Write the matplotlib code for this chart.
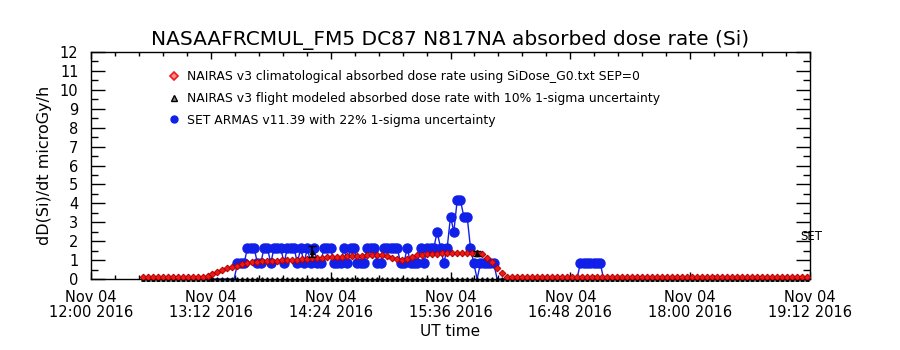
import numpy as np
import matplotlib
matplotlib.use("Agg")
import matplotlib.pyplot as plt
from matplotlib.ticker import MultipleLocator
from matplotlib.lines import Line2D

plt.rcParams['font.family'] = ['DejaVu Sans']

title = "NASAAFRCMUL_FM5 DC87 N817NA absorbed dose rate (Si)"
ylabel = "dD(Si)/dt microGy/h"
xlabel = "UT time"

# x in minutes after Nov 04 2016 12:00 UT
xtick_minutes = [0, 72, 144, 216, 288, 360, 432]
xtick_labels = ["Nov 04\n12:00 2016", "Nov 04\n13:12 2016", "Nov 04\n14:24 2016",
                "Nov 04\n15:36 2016", "Nov 04\n16:48 2016", "Nov 04\n18:00 2016",
                "Nov 04\n19:12 2016"]
ytick_values = list(range(0, 13))

# NAIRAS v3 climatological (red diamonds)
clim_minutes = list(range(31, 431, 3))
clim_values = [
    0.08, 0.08, 0.08, 0.08, 0.08, 0.08, 0.08, 0.08, 0.08, 0.08, 0.09, 0.10,
    0.12, 0.18, 0.27, 0.37, 0.47, 0.56, 0.64, 0.71, 0.78, 0.84,
    0.89, 0.92, 0.94, 0.95, 0.96, 0.97, 0.98, 1.00, 1.02, 1.03,
    1.05, 1.07, 1.09, 1.11, 1.13, 1.15, 1.16, 1.17, 1.18, 1.20,
    1.22, 1.23, 1.24, 1.25, 1.25, 1.26, 1.25, 1.19, 1.11, 1.04,
    1.00, 1.06, 1.16, 1.25, 1.28, 1.30, 1.32, 1.34, 1.35, 1.36,
    1.37, 1.37, 1.37, 1.37, 1.37, 1.37, 1.30, 1.12, 0.88, 0.58,
    0.30, 0.12,
    0.08, 0.08, 0.08, 0.08, 0.08, 0.08, 0.08, 0.08, 0.08, 0.08,
    0.08, 0.08, 0.08, 0.08, 0.08, 0.08, 0.08, 0.08, 0.08, 0.08,
    0.08, 0.08, 0.09, 0.10, 0.10, 0.09, 0.08, 0.08, 0.08, 0.08,
    0.08, 0.08, 0.08, 0.08, 0.08, 0.08, 0.08, 0.09, 0.10, 0.10,
    0.09, 0.08, 0.08, 0.08, 0.08, 0.08, 0.08, 0.08, 0.08, 0.08,
    0.08, 0.08, 0.08, 0.08, 0.08, 0.09, 0.10, 0.10, 0.09, 0.08,
]

# NAIRAS v3 flight modeled (black triangles) with 10% 1-sigma error
flight_minutes = list(range(31, 431, 3))
flight_values = [
    0, 0, 0, 0, 0, 0, 0, 0, 0, 0, 0, 0, 0, 0, 0, 0, 0, 0, 0, 0,
    0, 0, 0, 0, 0, 0, 0, 0, 0, 0, 0, 0, 0, 0, 0, 0, 0, 0, 0, 0,
    0, 0, 0, 0, 0, 0, 0, 0, 0, 0, 0, 0, 0, 0, 0, 0, 0, 0, 0, 0,
    0, 0, 0, 0, 0, 0, 0, 0, 0, 0, 0, 0, 0, 0, 0, 0, 0, 0, 0, 0,
    0, 0, 0, 0, 0, 0, 0, 0, 0, 0, 0, 0, 0, 0, 0, 0, 0, 0, 0, 0,
    0, 0, 0, 0, 0, 0, 0, 0, 0, 0, 0, 0, 0, 0, 0, 0, 0, 0, 0, 0,
    0, 0, 0, 0, 0, 0, 0, 0, 0, 0, 0, 0, 0, 0,
]
flight_err_minutes = [133, 232]
flight_err_values = [1.45, 1.33]
flight_err_sigma = [0.30, 0.14]

# SET ARMAS v11.39 (blue circles)
set_minutes = (list(range(32, 86, 4)) + list(range(86, 246, 2))
               + list(range(250, 294, 6)) + list(range(294, 308, 2))
               + list(range(308, 431, 6)))
set_values = (
    [0, 0, 0, 0, 0, 0, 0, 0, 0, 0, 0, 0, 0, 0]
    + [0.0,
       0.83, 0.83, 0.83, 1.65, 1.65, 1.65, 0.83, 0.83, 1.65, 1.65,
       0.83, 1.65, 1.65, 1.65, 0.83, 1.65, 1.65, 1.65, 0.83, 1.65,
       0.83, 1.65, 0.83, 1.65, 0.83, 0.83, 1.65, 1.65, 1.65, 0.83,
       0.83, 0.83, 1.65, 0.83, 1.65, 1.65, 0.83, 0.83, 0.83, 1.65,
       1.65, 1.65, 0.83, 0.83, 1.65, 1.65, 1.65, 1.65, 1.65, 0.83,
       0.83, 1.65, 0.83, 0.83, 0.83, 1.65, 0.83, 1.65, 1.65, 1.65,
       2.50, 1.65, 0.83, 1.65, 3.30, 2.50, 4.15, 4.15, 3.30, 3.30,
       1.65, 0.83, 0.0, 0.83, 0.83, 0.83, 0.83, 0.83, 0.0]
    + [0, 0, 0, 0, 0, 0, 0, 0]
    + [0.83, 0.83, 0.83, 0.83, 0.83, 0.83, 0.83]
    + [0] * 21
)

red = '#f01818'
red_edge = '#b00000'
blue = '#1020e8'

fig = plt.figure(figsize=(9, 3.5), dpi=100)
ax = fig.add_axes([91/900, 1 - 279/350, (810-91)/900, (279-52)/350])

n = min(len(set_minutes), len(set_values))
sm = np.array(set_minutes[:n], float)
sv = np.array(set_values[:n], float)
ax.plot(sm, sv, '-', color=blue, lw=1.0, zorder=2)
ax.plot(sm[sv > 0], sv[sv > 0], 'o', color=blue, ms=6.5, mec=blue, zorder=2)

n = min(len(flight_minutes), len(flight_values))
ax.plot(flight_minutes[:n], flight_values[:n], '^', color='black', ms=2.5,
        mfc='black', mec='black', zorder=3, clip_on=False)

n = min(len(clim_minutes), len(clim_values))
ax.plot(clim_minutes[:n], clim_values[:n], 'D', ms=3.4, mfc=red, mec=red_edge,
        mew=0.7, ls='none', zorder=4)

ax.errorbar(flight_err_minutes, flight_err_values, yerr=flight_err_sigma,
            fmt='^', color='black', ms=3, capsize=3, elinewidth=1.2, zorder=5)

ax.set_xlim(0, 432)
ax.set_ylim(0, 12)
ax.set_xticks(xtick_minutes)
ax.set_xticklabels(xtick_labels, fontsize=10.5, linespacing=0.95)
ax.xaxis.set_minor_locator(MultipleLocator(14.4))
ax.set_yticks(ytick_values)
ax.set_yticklabels([str(v) for v in ytick_values], fontsize=10.5)
ax.yaxis.set_minor_locator(MultipleLocator(0.5))
ax.tick_params(axis='both', which='both', direction='in', top=True, right=True)
ax.tick_params(axis='y', which='major', length=10, width=1, pad=9)
ax.tick_params(axis='y', which='minor', length=5, width=1)
ax.tick_params(axis='x', which='major', length=5, width=1, pad=8)
ax.tick_params(axis='x', which='minor', length=3, width=1)
for s in ax.spines.values():
    s.set_linewidth(1.0)

ax.set_title(title, fontsize=14.5, pad=5)
ax.set_ylabel(ylabel, fontsize=11.5, labelpad=6)
ax.set_xlabel(xlabel, fontsize=11, labelpad=3)

handles = [
    Line2D([], [], marker='D', ls='none', ms=4, mfc='#ff9090', mec=red, mew=1.2),
    Line2D([], [], marker='^', ls='none', ms=4.5, mfc='#888888', mec='black', mew=1),
    Line2D([], [], marker='o', ls='none', ms=5, color=blue),
]
labels = [
    "NAIRAS v3 climatological absorbed dose rate using SiDose_G0.txt SEP=0",
    "NAIRAS v3 flight modeled absorbed dose rate with 10% 1-sigma uncertainty",
    "SET ARMAS v11.39 with 22% 1-sigma uncertainty",
]
ax.legend(handles, labels, loc='upper left', bbox_to_anchor=((170-91)/719, (279-70)/227),
          frameon=False, fontsize=8.9, handlelength=0.6, handletextpad=0.75,
          labelspacing=0.72, borderaxespad=0, borderpad=0)

fig.text(811/900, 1 - 236/350, "SET", fontsize=8.5, ha='center', va='center')

fig.savefig('out.png', dpi=100)
